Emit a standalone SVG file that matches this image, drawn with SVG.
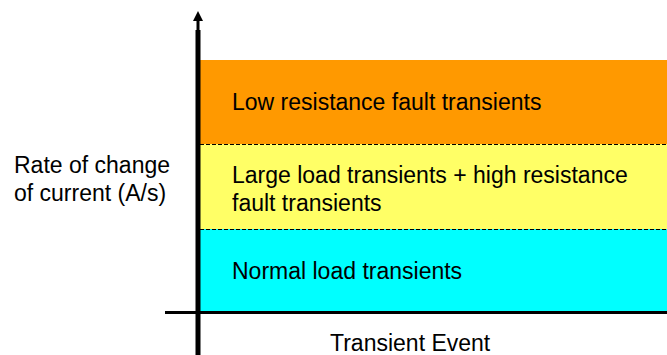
<svg xmlns="http://www.w3.org/2000/svg" width="667" height="355" viewBox="0 0 667 355">
<style>
text{font-family:"Liberation Sans",Arial,sans-serif;font-size:23px;fill:#000}
.dash{stroke:#000;stroke-width:1;stroke-dasharray:4 2;fill:none}
</style>
<rect width="667" height="355" fill="#fff"/>
<g id="band-low">
<rect x="200" y="60" width="467" height="84" fill="#FF9900"/>
<text x="232" y="110">Low resistance fault transients</text>
</g>
<g id="band-large">
<rect x="200" y="144" width="467" height="85" fill="#FFFF66"/>
<text x="232" y="183">Large load transients + high resistance</text>
<text x="232" y="211">fault transients</text>
</g>
<g id="band-normal">
<rect x="200" y="229" width="467" height="83" fill="#00FFFF"/>
<text x="232" y="279">Normal load transients</text>
</g>
<g id="connectors">
<line class="dash" x1="200" y1="144.5" x2="667" y2="144.5"/>
<line class="dash" x1="200" y1="229.5" x2="667" y2="229.5"/>
<line x1="198" y1="18" x2="198" y2="32" stroke="#000" stroke-width="3"/>
<polygon points="198,11 193,21 203,21" fill="#000"/>
<line x1="198" y1="30" x2="198" y2="355" stroke="#000" stroke-width="5"/>
<line x1="165" y1="312.5" x2="667" y2="312.5" stroke="#000" stroke-width="3"/>
</g>
<g id="axis-labels">
<text x="14" y="173">Rate of change</text>
<text x="14" y="201">of current (A/s)</text>
<text x="330" y="351">Transient Event</text>
</g>
</svg>
